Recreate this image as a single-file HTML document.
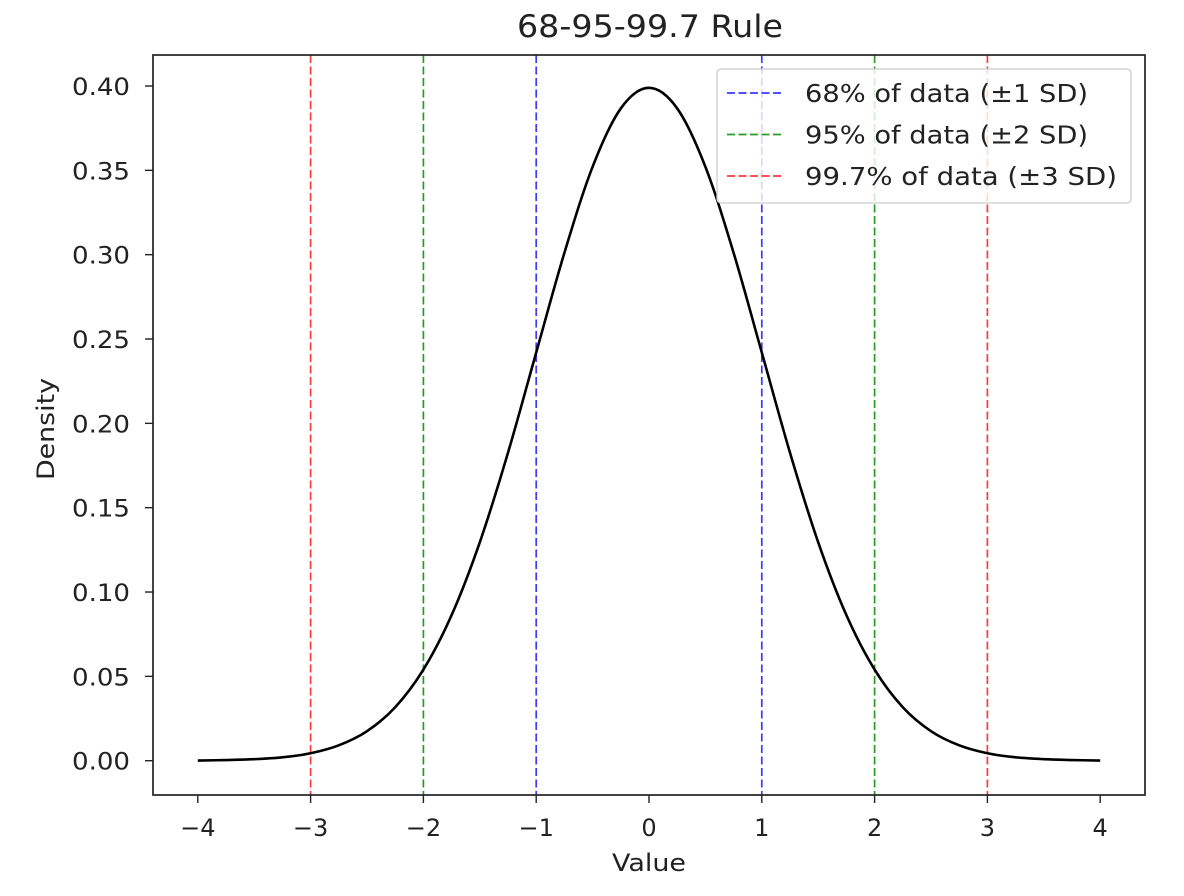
<!DOCTYPE html>
<html><head><meta charset="utf-8"><style>
body{margin:0;background:#fff;}
svg{display:block;font-family:"DejaVu Sans","Liberation Sans",sans-serif;}
</style></head><body>
<svg id="chart" width="1184" height="896" viewBox="0 0 1184 896">
<rect width="1184" height="896" fill="#fff"/>
<text x="650" y="37" font-size="31" text-anchor="middle" fill="#222" textLength="266" lengthAdjust="spacingAndGlyphs">68-95-99.7 Rule</text>
<g id="plot"></g>
</svg>
<script>
const xVals=[-4,-3.75,-3.5,-3.25,-3,-2.75,-2.5,-2.25,-2,-1.75,-1.5,-1.25,-1,-0.75,-0.5,-0.25,0,0.25,0.5,0.75,1,1.25,1.5,1.75,2,2.25,2.5,2.75,3,3.25,3.5,3.75,4];
const densityVals=[0.0001,0.0004,0.0009,0.0020,0.0044,0.0091,0.0175,0.0317,0.0540,0.0863,0.1295,0.1826,0.2420,0.3011,0.3521,0.3867,0.3989,0.3867,0.3521,0.3011,0.2420,0.1826,0.1295,0.0863,0.0540,0.0317,0.0175,0.0091,0.0044,0.0020,0.0009,0.0004,0.0001];
const xTicks=[-4,-3,-2,-1,0,1,2,3,4];
const yTicks=[0,0.05,0.10,0.15,0.20,0.25,0.30,0.35,0.40];
const sdLines=[-1,1,-2,2,-3,3];
const sdColors=["#3a3aff","#3a3aff","#2a9a2a","#2a9a2a","#ff3a3a","#ff3a3a"];
const legendLabels=["68% of data (±1 SD)","95% of data (±2 SD)","99.7% of data (±3 SD)"];
const legendColors=["#3a3aff","#2a9a2a","#ff3a3a"];
const legendWidths=[283,283,312];

const L=153,R=1145,T=55,B=795;
const sx=v=>649+v*112.8;
const sy=v=>760.7-v*(674.7/0.4);
const NS="http://www.w3.org/2000/svg";
const g=document.getElementById('plot');
function mk(tag,attrs,parent){const e=document.createElementNS(NS,tag);for(const k in attrs)e.setAttribute(k,attrs[k]);(parent||g).appendChild(e);return e;}

sdLines.forEach((v,i)=>{
 const l=mk('line',{x1:sx(v),x2:sx(v),y1:T,y2:B,stroke:sdColors[i],'stroke-width':1.7,'stroke-dasharray':'8,3.5'});
 
 
});
const pts=xVals.map((x,i)=>[sx(x),sy(densityVals[i])]);
let d='M'+pts[0][0]+','+pts[0][1];
for(let i=0;i<pts.length-1;i++){
 const p0=pts[Math.max(0,i-1)],p1=pts[i],p2=pts[i+1],p3=pts[Math.min(pts.length-1,i+2)];
 const c1=[p1[0]+(p2[0]-p0[0])/6,p1[1]+(p2[1]-p0[1])/6];
 const c2=[p2[0]-(p3[0]-p1[0])/6,p2[1]-(p3[1]-p1[1])/6];
 d+=`C${c1[0]},${c1[1]} ${c2[0]},${c2[1]} ${p2[0]},${p2[1]}`;
}
const curve=mk('path',{d:d,fill:'none',stroke:'#000','stroke-width':2.6});



const frame=mk('rect',{x:L,y:T,width:R-L,height:B-T,fill:'none',stroke:'#222','stroke-width':1.7});



xTicks.forEach(v=>{
 mk('line',{x1:sx(v),x2:sx(v),y1:B,y2:B+8,stroke:'#222','stroke-width':1.4});
 const t=mk('text',{x:sx(v),y:836,'font-size':24,'text-anchor':'middle',fill:'#222'});
 t.textContent=(v<0?'−':'')+Math.abs(v);
 
 
});
yTicks.forEach(v=>{
 mk('line',{x1:L-8,x2:L,y1:sy(v),y2:sy(v),stroke:'#222','stroke-width':1.4});
 const t=mk('text',{x:130,y:sy(v)+9,'font-size':24,'text-anchor':'end',fill:'#222',textLength:58,lengthAdjust:'spacingAndGlyphs'});
 t.textContent=v.toFixed(2);
 
 
});
const xl=mk('text',{x:649,y:871,'font-size':24,'text-anchor':'middle',fill:'#222',textLength:74,lengthAdjust:'spacingAndGlyphs'});
xl.textContent='Value';


const yl=mk('text',{x:54,y:429,'font-size':24,'text-anchor':'middle',fill:'#222',transform:'rotate(-90 54 429)',textLength:102,lengthAdjust:'spacingAndGlyphs'});
yl.textContent='Density';



const lg=mk('g',{});


mk('rect',{x:717,y:69,width:414,height:134,rx:4,fill:'rgba(255,255,255,0.8)',stroke:'#ccc','stroke-width':1.3},lg);
legendLabels.forEach((s,i)=>{
 const y=93+i*41.5;
 const e=mk('g',{},lg);
 
 
 mk('line',{x1:727,x2:782,y1:y,y2:y,stroke:legendColors[i],'stroke-width':1.7,'stroke-dasharray':'8,3.5'},e);
 const t=mk('text',{x:805,y:y+9,'font-size':25,fill:'#222',textLength:legendWidths[i],lengthAdjust:'spacingAndGlyphs'},e);
 t.textContent=s;
});
</script>
</body></html>
